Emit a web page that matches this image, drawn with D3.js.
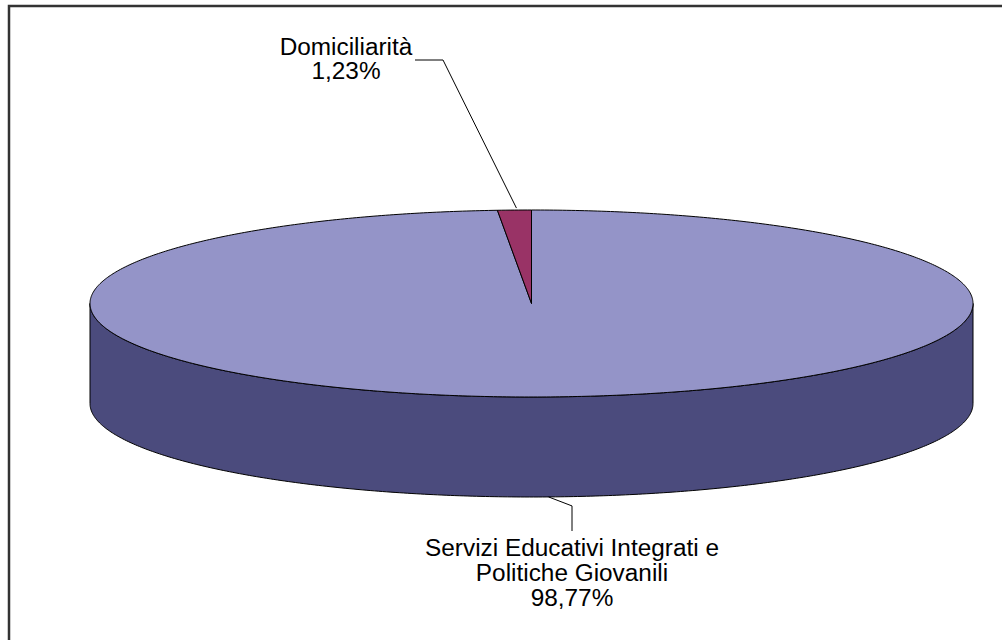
<!DOCTYPE html>
<html>
<head>
<meta charset="utf-8">
<script src="https://cdn.jsdelivr.net/npm/d3@7"></script>
<style>
  body { margin: 0; background: #fff; }
  svg { display: block; }
  .lbl { font-family: "Liberation Sans", Arial, sans-serif; font-size: 23px; fill: #000; }
</style>
</head>
<body>
<svg id="chart" width="1002" height="640"></svg>
<script>
// data
const categories = ["Servizi Educativi Integrati e Politiche Giovanili", "Domiciliarità"];
const values = [98.77, 1.23];
const labelLines = [["Servizi Educativi Integrati e", "Politiche Giovanili"], ["Domiciliarità"]];
const topColors = ["#9494c8", "#993366"];
const sideColors = ["#4b4b7d", "#5c1f3d"];

const width = 1002, height = 640;
const cx = 531.5, cy = 303.5, rx = 441.5, ry = 93.5, depth = 100;

const svg = d3.select("#chart");

// frame (only top and left edges are visible in the picture)
svg.append("rect")
    .attr("x", 9).attr("y", 6)
    .attr("width", width + 20).attr("height", height + 20)
    .attr("fill", "none")
    .attr("stroke", "#333")
    .attr("stroke-width", 2.5);

const fmt = d3.formatLocale({decimal: ",", thousands: ".", grouping: [3], currency: ["", "€"]}).format(".2f");
const total = d3.sum(values);

const pie = d3.pie().sort(null).value(d => d)
    .startAngle(0).endAngle(2 * Math.PI);
// Servizi goes clockwise from 12 o'clock, Domiciliarità closes the circle
const arcs = pie(values);

// point on the top ellipse, angle measured clockwise from 12 o'clock
function pt(a, dy) {
    return [cx + rx * Math.sin(a), cy - ry * Math.cos(a) + (dy || 0)];
}

function ellArc(a0, a1, dy) {
    const n = Math.max(2, Math.ceil(Math.abs(a1 - a0) / 0.01));
    const pts = [];
    for (let i = 0; i <= n; i++) pts.push(pt(a0 + (a1 - a0) * i / n, dy));
    return pts;
}

const line = d3.line();

// side walls: only the front half (angles between PI/2 and 3PI/2) can be seen
const sideG = svg.append("g");
arcs.forEach((d, i) => {
    const a0 = Math.max(d.startAngle, Math.PI / 2);
    const a1 = Math.min(d.endAngle, 3 * Math.PI / 2);
    if (a1 <= a0) return;
    const pts = ellArc(a0, a1, 0).concat(ellArc(a1, a0, depth));
    sideG.append("path")
        .attr("d", line(pts) + "Z")
        .attr("fill", sideColors[i])
        .attr("stroke", "#000")
        .attr("stroke-width", 1)
        .attr("stroke-linejoin", "round");
});

// top faces
const topG = svg.append("g");
arcs.forEach((d, i) => {
    const pts = [[cx, cy]].concat(ellArc(d.startAngle, d.endAngle, 0));
    topG.append("path")
        .attr("d", line(pts) + "Z")
        .attr("fill", topColors[i])
        .attr("stroke", "#000")
        .attr("stroke-width", 1)
        .attr("stroke-linejoin", "round");
});

// labels with leader lines
const lab = svg.append("g");

function addLabel(lines, tx, ty, lh) {
    const t = lab.append("text")
        .attr("class", "lbl")
        .attr("text-anchor", "middle")
        .attr("transform", `translate(${tx},${ty}) scale(1.06,1)`);
    lines.forEach((s, k) => {
        t.append("tspan").attr("x", 0).attr("y", k * lh).text(s);
    });
}

// Domiciliarità: label above left, leader to the top rim
{
    const d = arcs[1];
    const mid = (d.startAngle + d.endAngle) / 2;
    const p = pt(mid, 0);
    lab.append("path")
        .attr("d", line([[p[0] + 2, p[1] - 2], [443, 60], [415, 60]]))
        .attr("fill", "none").attr("stroke", "#000").attr("stroke-width", 1);
    addLabel(labelLines[1].concat([fmt(values[1] / total * 100) + "%"]), 346, 55, 24);
}

// Servizi: label below, leader to the bottom rim
{
    const d = arcs[0];
    const mid = (d.startAngle + d.endAngle) / 2;
    const p = pt(mid, depth);
    const tx = 572;
    lab.append("path")
        .attr("d", line([[p[0], p[1]], [tx, p[1] + 9], [tx, 531]]))
        .attr("fill", "none").attr("stroke", "#000").attr("stroke-width", 1);
    addLabel(labelLines[0].concat([fmt(values[0] / total * 100) + "%"]), tx, 556, 25);
}
</script>
</body>
</html>
